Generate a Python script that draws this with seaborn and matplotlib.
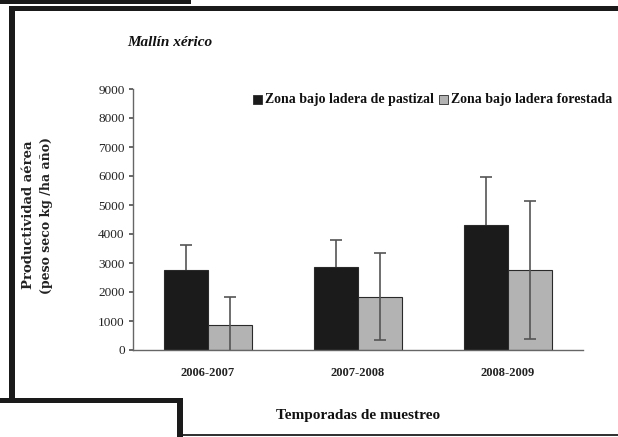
import matplotlib
matplotlib.use("Agg")
import matplotlib.pyplot as plt
import seaborn as sns
import pandas as pd
import numpy as np
from matplotlib.patches import Rectangle

# ---- data ----
seasons = ["2006-2007", "2007-2008", "2008-2009"]
series = ["Zona bajo ladera de pastizal", "Zona bajo ladera forestada"]
pastizal = [2770, 2850, 4320]
pastizal_err = [860, 930, 1640]
forestada = [850, 1830, 2770]
forestada_err = [980, 1500, 2380]
yticks = [0, 1000, 2000, 3000, 4000, 5000, 6000, 7000, 8000, 9000]

df = pd.DataFrame({
    "season": seasons * 2,
    "zona": [series[0]] * 3 + [series[1]] * 3,
    "value": pastizal + forestada,
})

sns.set_theme(style="white")
plt.rcParams["font.family"] = ["Liberation Serif", "DejaVu Serif"]

W, H = 618, 437
fig = plt.figure(figsize=(W / 100, H / 100), dpi=100)
ax = fig.add_axes([133 / W, 1 - 350 / H, 450 / W, 261 / H])

palette = {series[0]: "#1b1b1b", series[1]: "#b3b3b3"}
sns.barplot(data=df, x="season", y="value", hue="zona", order=seasons,
            hue_order=series, palette=palette, width=0.59, dodge=True,
            errorbar=None, edgecolor="#2a2a2a", linewidth=0.8, ax=ax,
            saturation=1, legend=False, zorder=2)

# error bars from the drawn bars
bars = [p for p in ax.patches if isinstance(p, Rectangle)]
bars_p = bars[:3]
bars_f = bars[3:6]
xp = [b.get_x() + b.get_width() / 2 for b in bars_p]
xf = [b.get_x() + b.get_width() / 2 for b in bars_f]
ax.errorbar(xp, pastizal, yerr=pastizal_err, fmt="none",
            ecolor="#555555", elinewidth=1.2, capsize=4, capthick=1.2, zorder=1)
ax.errorbar(xf, forestada, yerr=forestada_err, fmt="none",
            ecolor="#555555", elinewidth=1.2, capsize=4, capthick=1.2, zorder=3)

ax.set_ylim(0, 9000)
ax.set_xlim(-0.5, 2.5)
ax.set_yticks(yticks)
ax.set_yticklabels([str(v) for v in yticks], fontsize=9.5)
ax.set_xticks([0, 1, 2])
ax.set_xticklabels(seasons, fontsize=9, fontweight="bold")
ax.set_xticks([-0.5, 0.5, 1.5, 2.5], minor=True)
ax.tick_params(axis="x", which="major", length=0, pad=12, colors="#222222")
ax.tick_params(axis="x", which="minor", length=4, direction="out", color="#555555")
ax.tick_params(axis="y", length=3, direction="out", pad=3, left=True)
ax.tick_params(axis="y", colors="#222222")
ax.yaxis.set_tick_params(color="#555555")
for s in ["top", "right"]:
    ax.spines[s].set_visible(False)
for s in ["left", "bottom"]:
    ax.spines[s].set_color("#666666")
    ax.spines[s].set_linewidth(1.0)
ax.set_xlabel("")
ax.set_ylabel("")
ax.grid(False)

# texts
fig.text(127 / W, 1 - 43 / H, "Mallín xérico", fontsize=11, fontweight="bold",
         fontstyle="italic", ha="left", va="center", color="#111111")
fig.text(28 / W, 1 - 215 / H, "Productividad aérea", rotation=90, fontsize=9.5,
         family=["DejaVu Serif"], fontweight="bold", ha="center", va="center", color="#222222")
fig.text(47 / W, 1 - 215 / H, "(peso seco kg /ha año)", rotation=90, fontsize=9,
         family=["DejaVu Serif"], fontweight="bold", ha="center", va="center", color="#222222")
fig.text(358 / W, 1 - 415 / H, "Temporadas de muestreo", fontsize=11,
         fontweight="bold", ha="center", va="center", color="#111111")

# legend
for sx, lab, col in [(253, series[0], "#1b1b1b"), (439, series[1], "#b3b3b3")]:
    fig.patches.append(Rectangle((sx / W, 1 - 104 / H), 9 / W, 9 / H,
                                 transform=fig.transFigure, facecolor=col,
                                 edgecolor="#2a2a2a", linewidth=0.6))
    fig.text((sx + 12) / W, 1 - 99 / H, lab, fontsize=10, fontweight="bold",
             ha="left", va="center", color="#111111")

# frame pieces (px boxes: x0, y0, x1, y1)
def box(x0, y0, x1, y1, col="#1a1a1a"):
    fig.patches.append(Rectangle((x0 / W, 1 - y1 / H), (x1 - x0) / W, (y1 - y0) / H,
                                 transform=fig.transFigure, facecolor=col,
                                 edgecolor="none", zorder=10))

box(0, 0, 191, 4)
box(9, 6, 618, 11)
box(9, 6, 15, 403)
box(0, 398, 183, 403)
box(177, 398, 183, 437)
box(183, 434, 618, 436, col="#333333")

fig.savefig("out.png", dpi=100)
